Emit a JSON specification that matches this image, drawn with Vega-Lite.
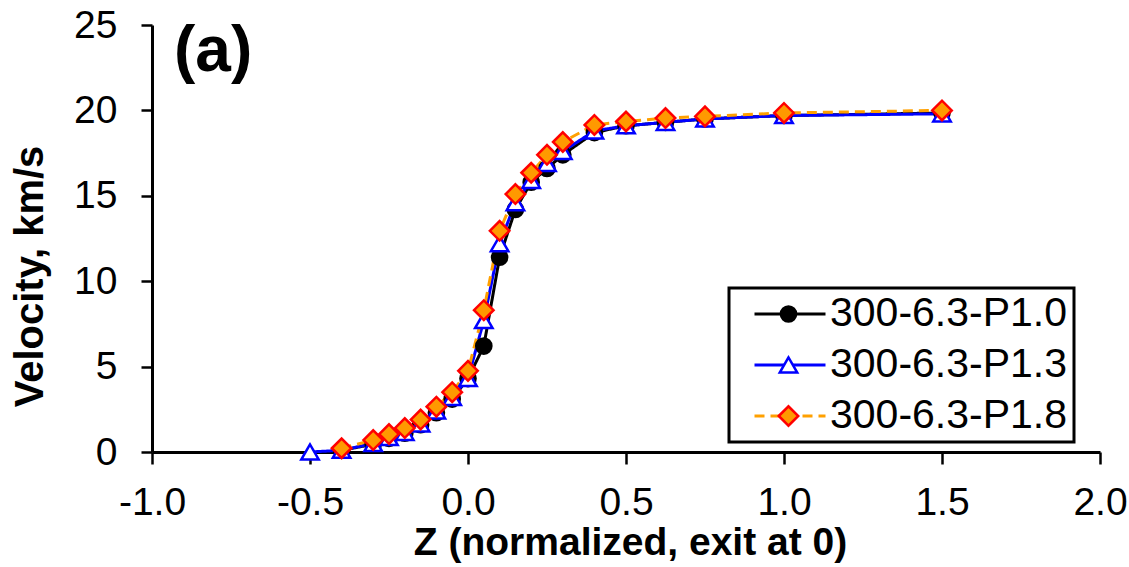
{
  "$schema": "https://vega.github.io/schema/vega-lite/v6.json",
  "width": 948,
  "height": 427,
  "autosize": {"type": "none"},
  "padding": {"left": 152, "top": 25, "right": 29, "bottom": 115},
  "background": "white",
  "config": {
    "view": {"stroke": null},
    "font": "Liberation Sans",
    "axis": {
      "grid": false,
      "domainColor": "black",
      "domainWidth": 3,
      "tickColor": "black",
      "tickWidth": 2.5,
      "labelColor": "black",
      "labelFont": "Liberation Sans",
      "labelFontSize": 39,
      "labelFlush": false,
      "labelOverlap": false,
      "titleColor": "black",
      "titleFont": "Liberation Sans",
      "titleFontWeight": "bold"
    }
  },
  "title": {
    "text": "(a)",
    "anchor": "start",
    "frame": "group",
    "font": "Liberation Sans",
    "fontSize": 64,
    "fontWeight": "bold",
    "color": "black",
    "baseline": "top",
    "offset": 0,
    "dx": 22,
    "dy": 78
  },
  "data": {
    "values": [
      {"z": -0.4, "v": 0.1, "series": "300-6.3-P1.0"},
      {"z": -0.3, "v": 0.45, "series": "300-6.3-P1.0"},
      {"z": -0.25, "v": 0.8, "series": "300-6.3-P1.0"},
      {"z": -0.2, "v": 1.1, "series": "300-6.3-P1.0"},
      {"z": -0.15, "v": 1.6, "series": "300-6.3-P1.0"},
      {"z": -0.1, "v": 2.3, "series": "300-6.3-P1.0"},
      {"z": -0.05, "v": 3.1, "series": "300-6.3-P1.0"},
      {"z": 0.0, "v": 4.3, "series": "300-6.3-P1.0"},
      {"z": 0.05, "v": 6.2, "series": "300-6.3-P1.0"},
      {"z": 0.1, "v": 11.4, "series": "300-6.3-P1.0"},
      {"z": 0.15, "v": 14.2, "series": "300-6.3-P1.0"},
      {"z": 0.2, "v": 15.8, "series": "300-6.3-P1.0"},
      {"z": 0.25, "v": 16.6, "series": "300-6.3-P1.0"},
      {"z": 0.3, "v": 17.4, "series": "300-6.3-P1.0"},
      {"z": 0.4, "v": 18.7, "series": "300-6.3-P1.0"},
      {"z": 0.5, "v": 19.1, "series": "300-6.3-P1.0"},
      {"z": 0.625, "v": 19.3, "series": "300-6.3-P1.0"},
      {"z": 0.75, "v": 19.5, "series": "300-6.3-P1.0"},
      {"z": 1.0, "v": 19.7, "series": "300-6.3-P1.0"},
      {"z": 1.5, "v": 19.85, "series": "300-6.3-P1.0"},
      {"z": -0.5, "v": 0.0, "series": "300-6.3-P1.3"},
      {"z": -0.4, "v": 0.1, "series": "300-6.3-P1.3"},
      {"z": -0.3, "v": 0.5, "series": "300-6.3-P1.3"},
      {"z": -0.25, "v": 0.85, "series": "300-6.3-P1.3"},
      {"z": -0.2, "v": 1.15, "series": "300-6.3-P1.3"},
      {"z": -0.15, "v": 1.65, "series": "300-6.3-P1.3"},
      {"z": -0.1, "v": 2.4, "series": "300-6.3-P1.3"},
      {"z": -0.05, "v": 3.2, "series": "300-6.3-P1.3"},
      {"z": 0.0, "v": 4.3, "series": "300-6.3-P1.3"},
      {"z": 0.05, "v": 7.7, "series": "300-6.3-P1.3"},
      {"z": 0.1, "v": 12.2, "series": "300-6.3-P1.3"},
      {"z": 0.15, "v": 14.6, "series": "300-6.3-P1.3"},
      {"z": 0.2, "v": 15.9, "series": "300-6.3-P1.3"},
      {"z": 0.25, "v": 16.9, "series": "300-6.3-P1.3"},
      {"z": 0.3, "v": 17.6, "series": "300-6.3-P1.3"},
      {"z": 0.4, "v": 18.8, "series": "300-6.3-P1.3"},
      {"z": 0.5, "v": 19.1, "series": "300-6.3-P1.3"},
      {"z": 0.625, "v": 19.3, "series": "300-6.3-P1.3"},
      {"z": 0.75, "v": 19.5, "series": "300-6.3-P1.3"},
      {"z": 1.0, "v": 19.7, "series": "300-6.3-P1.3"},
      {"z": 1.5, "v": 19.8, "series": "300-6.3-P1.3"},
      {"z": -0.4, "v": 0.22, "series": "300-6.3-P1.8"},
      {"z": -0.3, "v": 0.7, "series": "300-6.3-P1.8"},
      {"z": -0.25, "v": 1.05, "series": "300-6.3-P1.8"},
      {"z": -0.2, "v": 1.4, "series": "300-6.3-P1.8"},
      {"z": -0.15, "v": 1.9, "series": "300-6.3-P1.8"},
      {"z": -0.1, "v": 2.65, "series": "300-6.3-P1.8"},
      {"z": -0.05, "v": 3.5, "series": "300-6.3-P1.8"},
      {"z": 0.0, "v": 4.75, "series": "300-6.3-P1.8"},
      {"z": 0.05, "v": 8.3, "series": "300-6.3-P1.8"},
      {"z": 0.1, "v": 12.95, "series": "300-6.3-P1.8"},
      {"z": 0.15, "v": 15.1, "series": "300-6.3-P1.8"},
      {"z": 0.2, "v": 16.35, "series": "300-6.3-P1.8"},
      {"z": 0.25, "v": 17.4, "series": "300-6.3-P1.8"},
      {"z": 0.3, "v": 18.15, "series": "300-6.3-P1.8"},
      {"z": 0.4, "v": 19.15, "series": "300-6.3-P1.8"},
      {"z": 0.5, "v": 19.35, "series": "300-6.3-P1.8"},
      {"z": 0.625, "v": 19.55, "series": "300-6.3-P1.8"},
      {"z": 0.75, "v": 19.65, "series": "300-6.3-P1.8"},
      {"z": 1.0, "v": 19.85, "series": "300-6.3-P1.8"},
      {"z": 1.5, "v": 20.0, "series": "300-6.3-P1.8"}
    ]
  },
  "encoding": {
    "x": {
      "field": "z",
      "type": "quantitative",
      "scale": {"domain": [-1, 2], "nice": false, "zero": false},
      "axis": {
        "values": [-1, -0.5, 0, 0.5, 1, 1.5, 2],
        "labelExpr": "datum.value < 0 ? '-' + format(-datum.value, '.1f') : format(datum.value, '.1f')",
        "tickSize": 12,
        "labelPadding": 19,
        "title": "Z (normalized, exit at 0)",
        "titleFontSize": 39,
        "titleBaseline": "alphabetic",
        "titleX": 478,
        "titleY": 102
      }
    },
    "y": {
      "field": "v",
      "type": "quantitative",
      "scale": {"domain": [0, 25], "nice": false},
      "axis": {
        "values": [0, 5, 10, 15, 20, 25],
        "tickSize": 11,
        "labelPadding": 24,
        "title": "Velocity, km/s",
        "titleFontSize": 40,
        "titleAngle": 270,
        "titleAlign": "center",
        "titleBaseline": "alphabetic",
        "titleX": -110,
        "titleY": 251
      }
    }
  },
  "layer": [
    {
      "mark": {"type": "line", "strokeWidth": 3},
      "encoding": {
        "color": {
          "field": "series",
          "type": "nominal",
          "scale": {"range": ["#000000", "#0000FF", "#FFA000"]},
          "legend": {
            "title": null,
            "orient": "none",
            "legendX": 577,
            "legendY": 263,
            "symbolType": "stroke",
            "symbolSize": 5041,
            "symbolStrokeWidth": 3,
            "symbolOffset": 18,
            "clipHeight": 40,
            "labelFont": "Liberation Sans",
            "labelFontSize": 41,
            "labelLimit": 0,
            "labelColor": "black",
            "labelOffset": 3,
            "strokeColor": "black",
            "padding": 6,
            "rowPadding": 10,
            "encode": {"legend": {"update": {"strokeWidth": {"value": 3}, "width": {"value": 370}}}}
          }
        },
        "strokeDash": {
          "field": "series",
          "type": "nominal",
          "scale": {"range": [[1, 0], [1, 0], [10, 6]]}
        }
      }
    },
    {
      "mark": {"type": "point", "filled": true, "strokeWidth": 2.5, "opacity": 1},
      "encoding": {
        "shape": {
          "field": "series",
          "type": "nominal",
          "scale": {"domain": ["300-6.3-P1.0", "300-6.3-P1.3", "300-6.3-P1.8"], "range": ["circle", "triangle-up", "diamond"]},
          "legend": {
            "title": null,
            "orient": "none",
            "legendX": 610,
            "legendY": 263,
            "symbolStrokeWidth": 2.5,
            "clipHeight": 40,
            "labelFontSize": 41,
            "labelLimit": 0,
            "labelExpr": "''",
            "padding": 6,
            "rowPadding": 10
          }
        },
        "fill": {
          "field": "series",
          "type": "nominal",
          "scale": {"domain": ["300-6.3-P1.0", "300-6.3-P1.3", "300-6.3-P1.8"], "range": ["#000000", "#FFFFFF", "#FF9900"]}
        },
        "stroke": {
          "field": "series",
          "type": "nominal",
          "scale": {"domain": ["300-6.3-P1.0", "300-6.3-P1.3", "300-6.3-P1.8"], "range": ["#000000", "#0000FF", "#FF0000"]}
        },
        "size": {
          "field": "series",
          "type": "nominal",
          "scale": {"domain": ["300-6.3-P1.0", "300-6.3-P1.3", "300-6.3-P1.8"], "range": [230, 380, 420]}
        }
      }
    }
  ]
}
